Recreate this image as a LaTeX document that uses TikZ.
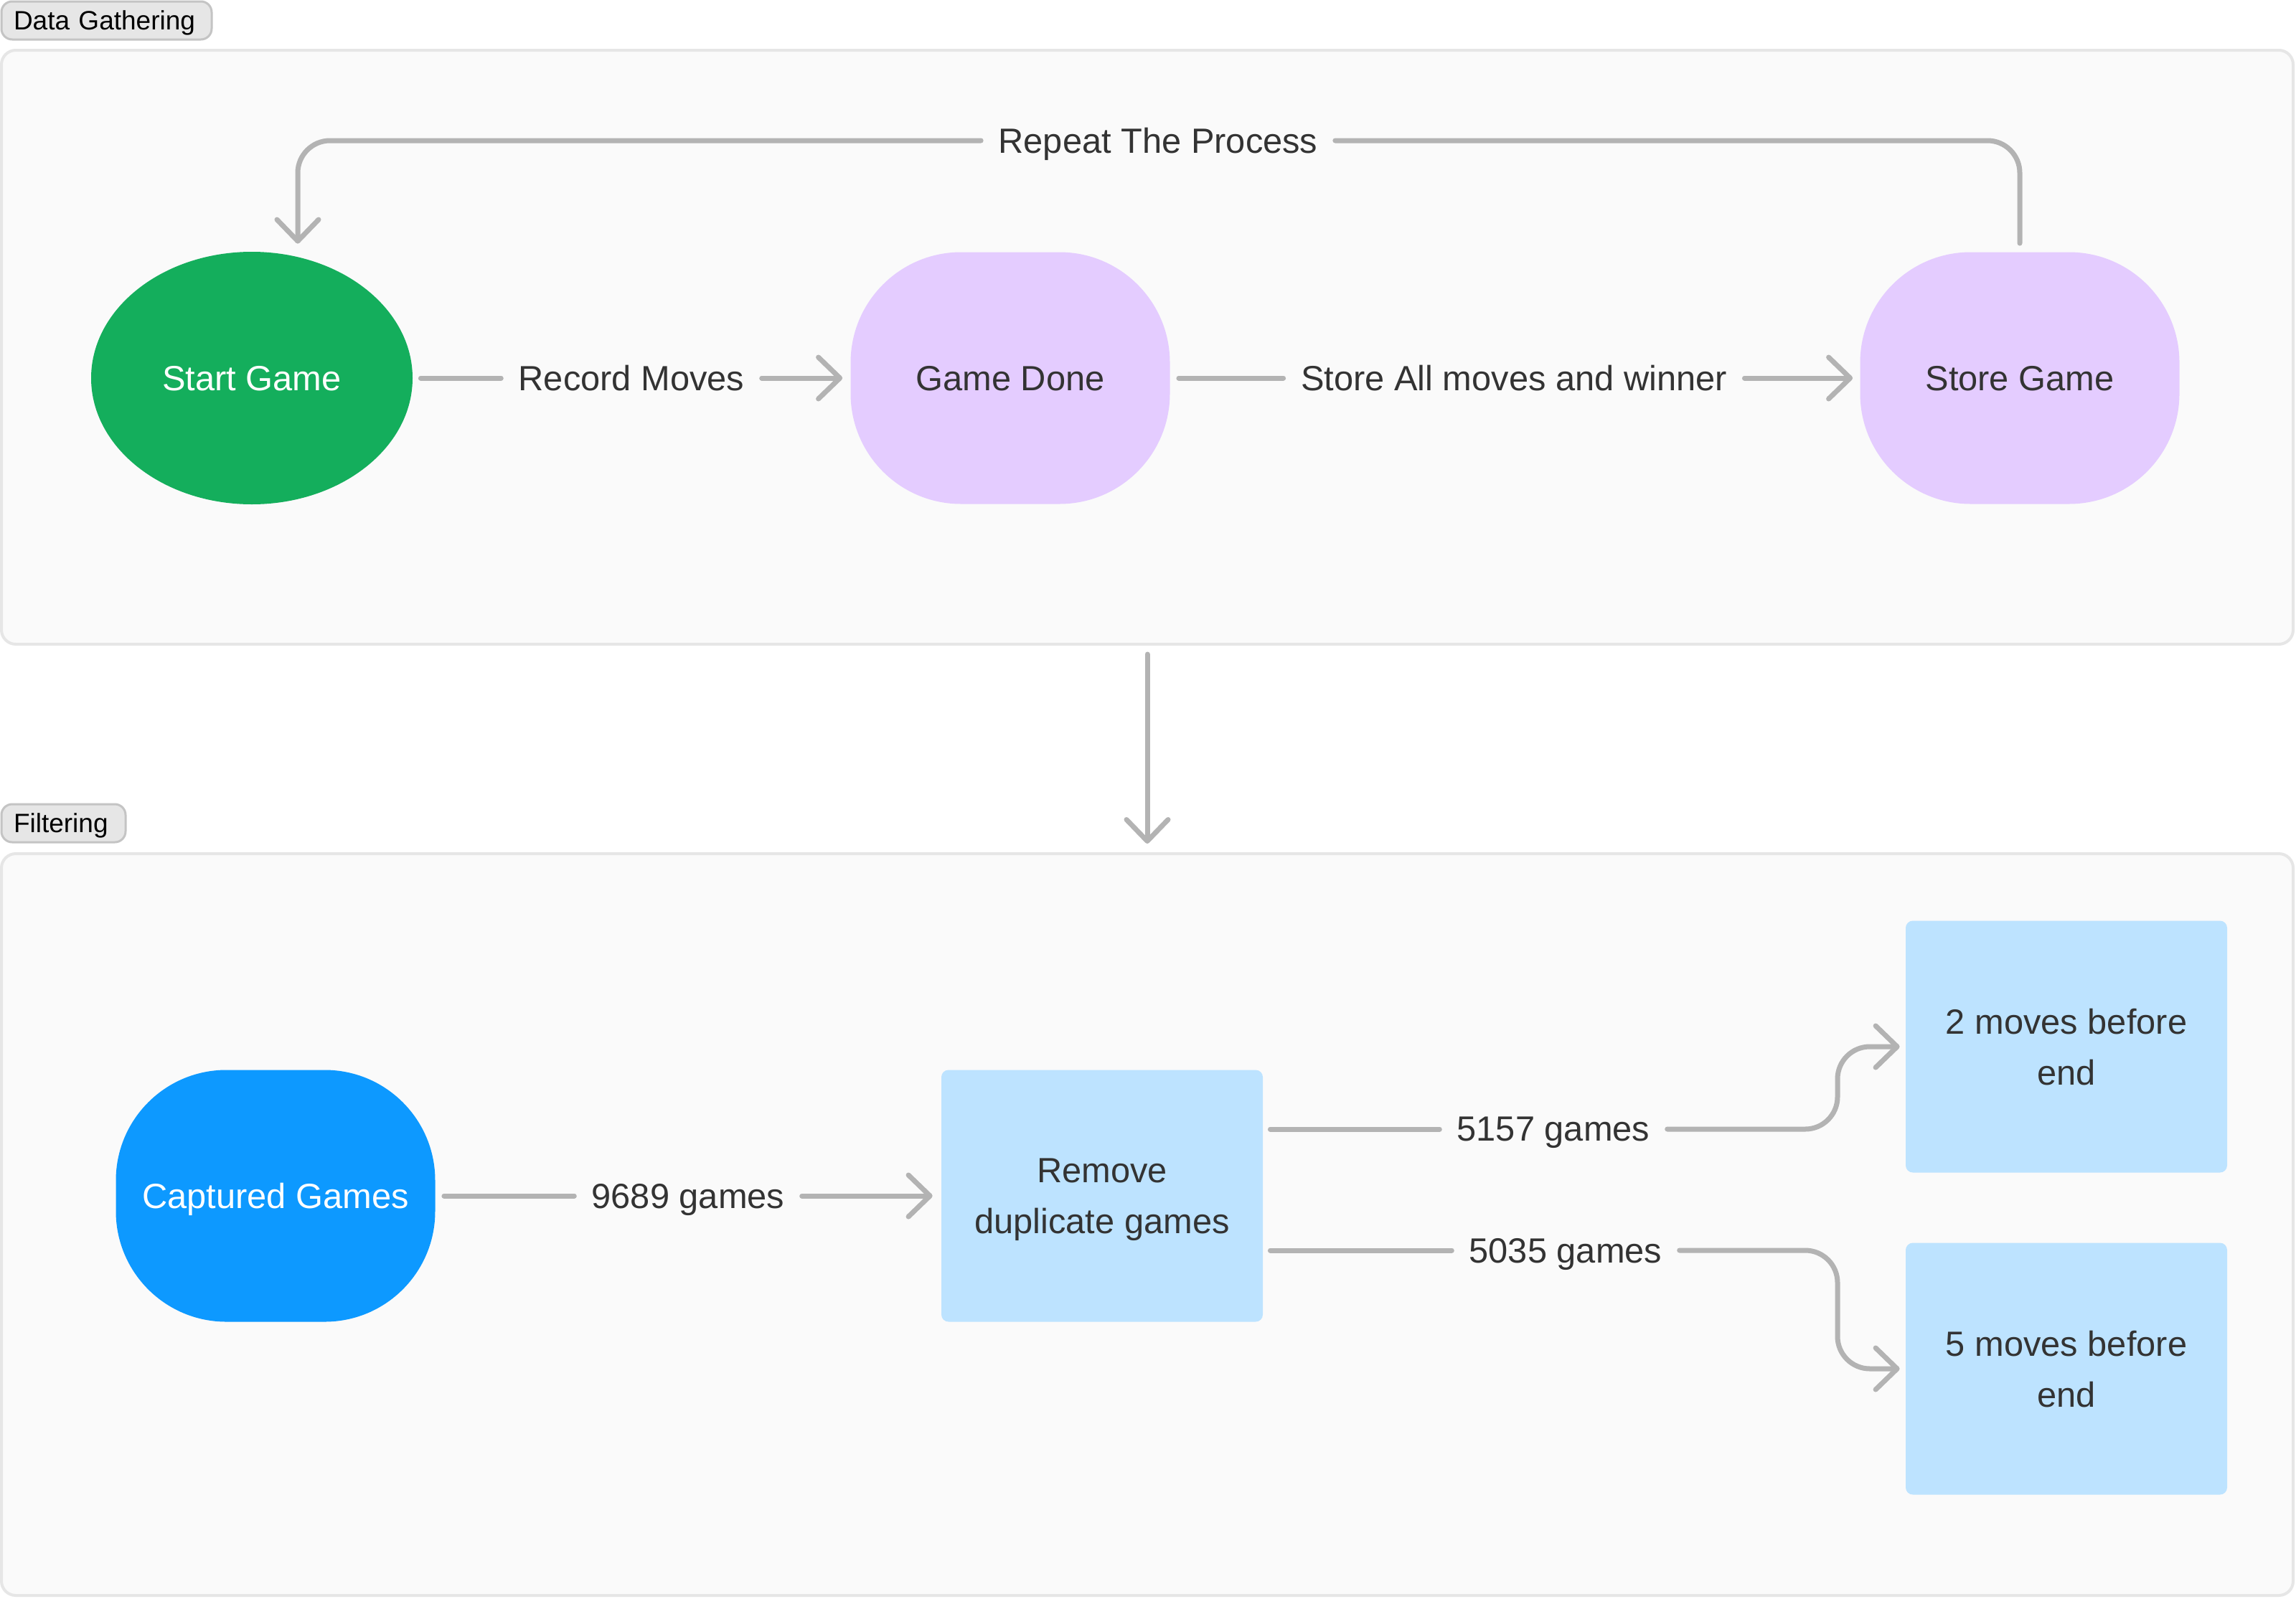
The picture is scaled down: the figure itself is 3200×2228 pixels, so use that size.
\documentclass[tikz,border=0pt]{standalone}
\usepackage{fontspec}
\setmainfont{Liberation Sans}
\usetikzlibrary{arrows.meta,shapes.geometric,calc}
\definecolor{linegray}{HTML}{B3B3B3}
\definecolor{contfill}{HTML}{FAFAFA}
\definecolor{contborder}{HTML}{E6E6E6}
\definecolor{tagfill}{HTML}{E6E6E6}
\definecolor{tagborder}{HTML}{C4C4C4}
\definecolor{greenfill}{HTML}{14AE5C}
\definecolor{purplefill}{HTML}{E4CCFF}
\definecolor{bluefill}{HTML}{0D99FF}
\definecolor{lightblue}{HTML}{BDE3FF}
\definecolor{textdark}{HTML}{333333}
\begin{document}
\begin{tikzpicture}[x=0.5pt,y=-0.5pt,
  every node/.style={font=\fontsize{24.4pt}{35.5pt}\selectfont, text=textdark, text depth=0pt},
  container/.style={draw=contborder, line width=2pt, fill=contfill, rounded corners=10pt, inner sep=0pt},
  tag/.style={draw=tagborder, line width=1.5pt, fill=tagfill, rounded corners=7.5pt,
    font=\fontsize{18.5pt}{22pt}\selectfont, text=black, inner xsep=8.5pt, inner ysep=0pt,
    align=left, minimum height=26.5pt},
  pill/.style={rounded corners=77pt, minimum width=222.5pt, minimum height=175.5pt, inner sep=0pt, align=center},
  rect/.style={fill=lightblue, rounded corners=5pt, minimum width=224pt, minimum height=175.5pt, inner sep=0pt, align=center},
  elbl/.style={inner xsep=12pt, inner ysep=0pt},
  conn/.style={draw=linegray, line width=3.5pt, line cap=round},
  arr/.style={conn, -{Straight Barb[length=15pt,width=29pt,round]}}
]
\useasboundingbox (0,0) rectangle (3200,2228);
\fill[white] (0,0) rectangle (3200,2228);

% containers
\node[container, minimum width=1597pt, minimum height=414pt] (dgbox) at (1599,484) {};
\node[container, minimum width=1597pt, minimum height=517pt] (fbox) at (1599,1707) {};
\node[tag, text width=129.5pt] (dgtag) at (148.5,28.5) {Data Gathering};
\node[tag, text width=69.5pt] (ftag) at (88.5,1147.5) {Filtering};

% top nodes
\node[ellipse, fill=greenfill, minimum width=224pt, minimum height=176pt, inner sep=0pt, text=white] (start) at (351,527) {Start Game};
\node[pill, fill=purplefill] (gdone) at (1408,527) {Game Done};
\node[pill, fill=purplefill] (store) at (2815,527) {Store Game};

% top labels
\node[elbl] (lrec) at (880,527) {Record Moves};
\node[elbl] (lstore) at (2110,527) {Store All moves and winner};
\node[elbl] (lrep) at (1614,196) {Repeat The Process};

\draw[conn] ([xshift=5.5pt]start.east) -- (lrec.west);
\draw[arr] (lrec.east) -- ([xshift=-5.5pt]gdone.west);
\draw[conn] ([xshift=6pt]gdone.east) -- (lstore.west);
\draw[arr] (lstore.east) -- ([xshift=-5pt]store.west);
\draw[conn, rounded corners=22.5pt] ([yshift=6pt]store.north) |- (lrep.east);
\draw[arr, rounded corners=22.5pt] (lrep.west) -| ([xshift=32pt,yshift=5.5pt]start.north);

% between containers
\draw[arr] ([yshift=-6pt]dgbox.south) -- ([yshift=6pt]fbox.north);

% bottom nodes
\node[pill, fill=bluefill, text=white] (captured) at (384,1667) {Captured Games};
\node[rect] (remove) at (1536,1667) {Remove\\duplicate games};
\node[rect] (two) at (2880,1459) {2 moves before\\end};
\node[rect] (five) at (2880,1908) {5 moves before\\end};

\node[elbl] (l9689) at (959,1667) {9689 games};
\node[elbl] (l5157) at (2165,1574) {5157 games};
\node[elbl] (l5035) at (2182,1743) {5035 games};

\coordinate (j1) at (2561,1574);
\coordinate (j2) at (2561,1743);

\draw[conn] ([xshift=6pt]captured.east) -- (l9689.west);
\draw[arr] (l9689.east) -- ([xshift=-6pt]remove.west);
\draw[conn] ([xshift=5pt,yshift=46.5pt]remove.east) -- (l5157.west);
\draw[arr, rounded corners=22.5pt] (l5157.east) -- (j1) |- ([xshift=-4pt]two.west);
\draw[conn] ([xshift=5pt,yshift=-38pt]remove.east) -- (l5035.west);
\draw[arr, rounded corners=22.5pt] (l5035.east) -- (j2) |- ([xshift=-4pt]five.west);
\end{tikzpicture}
\end{document}
